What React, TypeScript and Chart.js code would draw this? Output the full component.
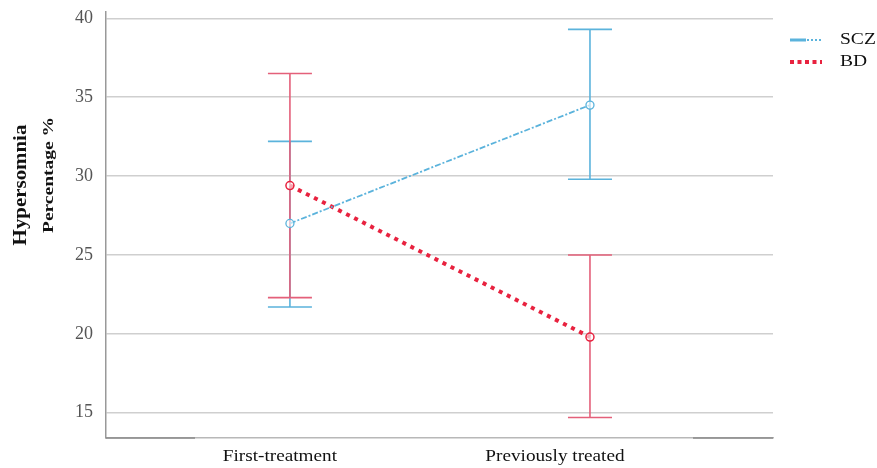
import React, { useEffect, useRef } from "react";
import { Chart, registerables } from "chart.js";

Chart.register(...registerables);

const categories = ["First-treatment", "Previously treated"];
const sczMean = [27.0, 34.5];
const sczLow = [21.7, 29.8];
const sczHigh = [32.2, 39.3];
const bdMean = [29.4, 19.8];
const bdLow = [22.3, 14.7];
const bdHigh = [36.5, 25.0];
const yTicks = [15, 20, 25, 30, 35, 40];

const SCZ_COLOR = "#5bb3dc";
const BD_COLOR = "#e8223f";
const BD_BAR = "#e4607a";
const FONT = "'Liberation Serif', 'Times New Roman', serif";
const LABEL_SHIFT = [-10, -35];

export default function App() {
  const ref = useRef<HTMLCanvasElement>(null);
  useEffect(() => {
    const errPlugin = {
      id: "errbars",
      beforeDatasetsDraw(chart: any) {
        const ctx = chart.ctx;
        const xs = chart.scales.x;
        const ys = chart.scales.y;
        const draw = (lo: number[], hi: number[], color: string) => {
          ctx.save();
          ctx.strokeStyle = color;
          ctx.lineWidth = 1.6;
          lo.forEach((l, i) => {
            const x = xs.getPixelForValue(i);
            const y1 = ys.getPixelForValue(l);
            const y2 = ys.getPixelForValue(hi[i]);
            ctx.beginPath();
            ctx.moveTo(x, y1);
            ctx.lineTo(x, y2);
            ctx.moveTo(x - 22, y1);
            ctx.lineTo(x + 22, y1);
            ctx.moveTo(x - 22, y2);
            ctx.lineTo(x + 22, y2);
            ctx.stroke();
          });
          ctx.restore();
        };
        draw(sczLow, sczHigh, SCZ_COLOR);
        draw(bdLow, bdHigh, BD_BAR);
      },
      afterDraw(chart: any) {
        const ctx = chart.ctx;
        const area = chart.chartArea;
        // darker end segments of the bottom axis
        ctx.save();
        ctx.strokeStyle = "#8a8a8a";
        ctx.lineWidth = 1.5;
        ctx.beginPath();
        ctx.moveTo(area.left, area.bottom);
        ctx.lineTo(area.left + 89, area.bottom);
        ctx.moveTo(area.right - 80, area.bottom);
        ctx.lineTo(area.right, area.bottom);
        ctx.stroke();
        ctx.restore();
        const stretched = (text: string, x: number, y: number, font: string, sx: number, rot: number) => {
          ctx.save();
          ctx.fillStyle = "#111";
          ctx.textAlign = "center";
          ctx.textBaseline = "middle";
          ctx.translate(x, y);
          ctx.rotate(rot);
          ctx.scale(sx, 1);
          ctx.font = font;
          ctx.fillText(text, 0, 0);
          ctx.restore();
        };
        // y title
        stretched("Hypersomnia", 21, 185, `bold 19px ${FONT}`, 1.1, -Math.PI / 2);
        stretched("Percentage %", 49, 175, `bold 15px ${FONT}`, 1.3, -Math.PI / 2);
        // x labels
        const xs = chart.scales.x;
        categories.forEach((c, i) => {
          stretched(c, xs.getPixelForValue(i) + LABEL_SHIFT[i], 457, `17px ${FONT}`, 1.13, 0);
        });
        // legend
        ctx.save();
        ctx.lineCap = "butt";
        ctx.strokeStyle = SCZ_COLOR;
        ctx.lineWidth = 3;
        ctx.beginPath();
        ctx.moveTo(790, 40);
        ctx.lineTo(806, 40);
        ctx.stroke();
        ctx.setLineDash([2, 2]);
        ctx.lineWidth = 2;
        ctx.beginPath();
        ctx.moveTo(807, 40);
        ctx.lineTo(822, 40);
        ctx.stroke();
        ctx.strokeStyle = BD_COLOR;
        ctx.lineWidth = 4;
        ctx.setLineDash([4, 3.5]);
        ctx.beginPath();
        ctx.moveTo(790, 62);
        ctx.lineTo(822, 62);
        ctx.stroke();
        ctx.restore();
        ctx.save();
        ctx.fillStyle = "#111";
        ctx.textAlign = "left";
        ctx.textBaseline = "middle";
        ctx.translate(840, 0);
        ctx.scale(1.15, 1);
        ctx.font = `17px ${FONT}`;
        ctx.fillText("SCZ", 0, 40);
        ctx.fillText("BD", 0, 62);
        ctx.restore();
      },
    };

    const chart = new Chart(ref.current as HTMLCanvasElement, {
      type: "line",
      data: {
        datasets: [
          {
            label: "SCZ",
            data: sczMean.map((v, i) => ({ x: i, y: v })),
            borderColor: SCZ_COLOR,
            borderWidth: 1.8,
            borderDash: [6, 2, 2, 2],
            pointRadius: 4,
            pointBorderWidth: 1.3,
            pointBackgroundColor: "rgba(255,255,255,0.6)",
            pointBorderColor: SCZ_COLOR,
            fill: false,
          },
          {
            label: "BD",
            data: bdMean.map((v, i) => ({ x: i, y: v })),
            borderColor: BD_COLOR,
            borderWidth: 4,
            borderDash: [4, 5],
            pointRadius: 4,
            pointBorderWidth: 1.5,
            pointBackgroundColor: "rgba(255,255,255,0.6)",
            pointBorderColor: BD_COLOR,
            fill: false,
          },
        ],
      },
      options: {
        animation: false,
        responsive: false,
        layout: { padding: { top: 12, right: 104, bottom: 0, left: 0 } },
        plugins: { legend: { display: false }, tooltip: { enabled: false } },
        scales: {
          x: {
            type: "linear",
            min: -0.613,
            max: 1.61,
            afterBuildTicks: (s: any) => {
              s.ticks = categories.map((_, i) => ({ value: i }));
            },
            afterFit: (s: any) => {
              s.height = 30;
              s.paddingLeft = 0;
              s.paddingRight = 0;
            },
            ticks: { display: false },
            grid: { display: false, drawTicks: false },
            border: { color: "#b8b8b8", width: 1.5 },
          },
          y: {
            min: 13.4,
            max: 40.4,
            afterBuildTicks: (s: any) => {
              s.ticks = yTicks.map((v) => ({ value: v }));
            },
            afterFit: (s: any) => {
              s.width = 106;
              s.paddingTop = 0;
              s.paddingBottom = 0;
            },
            ticks: {
              color: "#555",
              font: { family: FONT, size: 18 },
              padding: 13,
            },
            grid: { color: "#cfcfcf", lineWidth: 1.5, drawTicks: false },
            border: { color: "#999", width: 1.5 },
          },
        },
      },
      plugins: [errPlugin],
    } as any);
    return () => chart.destroy();
  }, []);

  return (
    <div style={{ position: "fixed", left: 0, top: 0, width: 877, height: 468, background: "#fff" }}>
      <canvas ref={ref} width={877} height={468} />
    </div>
  );
}
